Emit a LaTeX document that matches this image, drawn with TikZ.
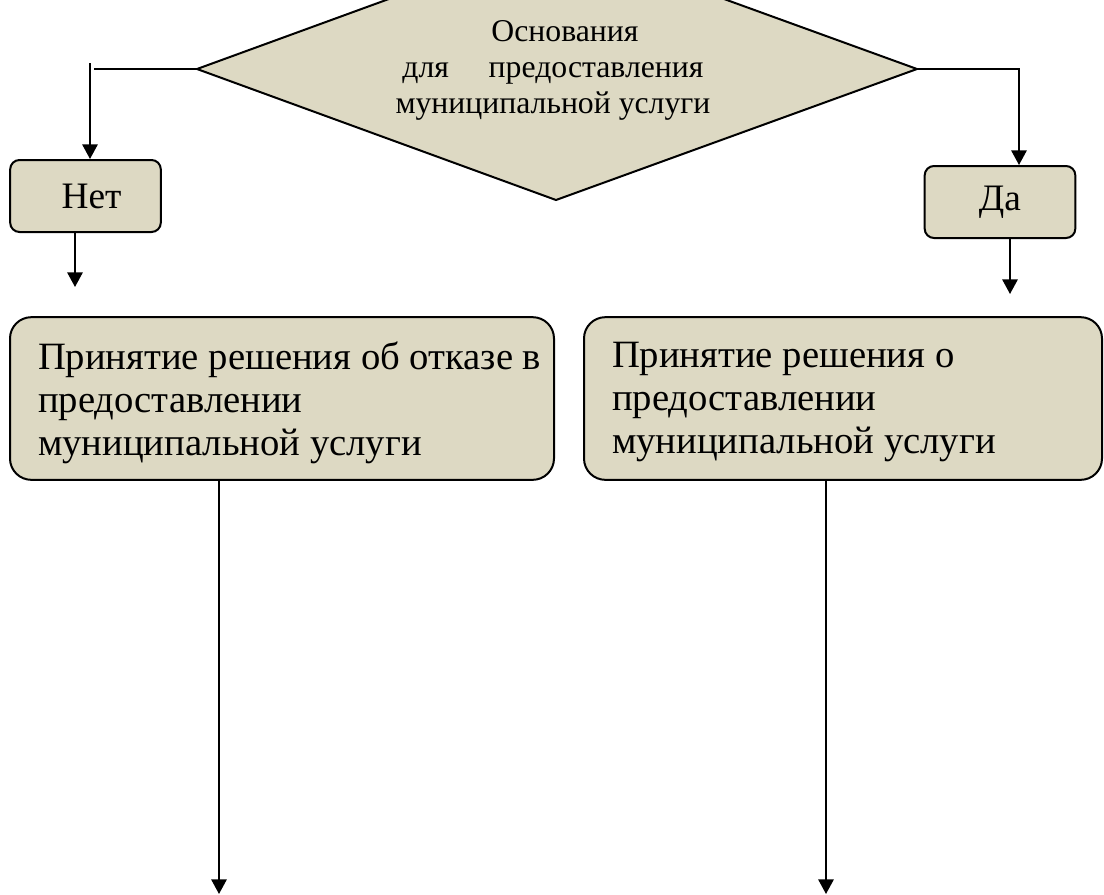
\documentclass[tikz,border=0pt]{standalone}
\usepackage{fontspec}
\setmainfont{Liberation Serif}
\usetikzlibrary{arrows.meta}
\definecolor{boxfill}{HTML}{DDD9C3}
\begin{document}
\begin{tikzpicture}[x=0.75pt,y=-0.75pt,line width=1.5pt,
  arr/.style={-{Triangle[length=11pt,width=11.5pt]}},
  smallbox/.style={draw,fill=boxfill,rounded corners=7pt,minimum width=113pt,minimum height=54pt,inner sep=0pt,font=\fontsize{28}{32}\selectfont},
  bigbox/.style={draw,fill=boxfill,rounded corners=16pt,minimum height=122pt,inner sep=0pt},
  bigtext/.style={align=left,inner sep=0pt,anchor=north west,font=\fontsize{29}{32.25}\selectfont},
  dtext/.style={align=center,inner sep=0pt,font=\fontsize{23.8}{27}\selectfont}]
\useasboundingbox (0,0) rectangle (1104,894);
% diamond
\coordinate (dl) at (197,69);
\coordinate (dr) at (917,69);
\coordinate (db) at (556,200);
\coordinate (dtp) at (556,-62);
\draw[fill=boxfill] (dl) -- (db) -- (dr) -- (dtp) -- cycle;
\node[dtext] (dtxt) at (553,70) {\hspace*{18pt}Основания\\для\quad\ предоставления\\муниципальной услуги};
% small boxes
\node[smallbox] (nbox) at (85.5,196) {\hspace*{9pt}Нет};
\node[smallbox] (dbox) at (1000,202) {Да};
% big boxes
\node[bigbox,minimum width=408pt] (lbox) at (282,398.5) {};
\node[bigbox,minimum width=388.5pt] (rbox) at (843,398.5) {};
\node[bigtext] (ltxt) at (37,341) {Принятие решения об отказе в\\предоставлении\\муниципальной услуги};
\node[bigtext] (rtxt) at (611,341) {Принятие решения о\\предоставлении\\муниципальной услуги};
% connectors
\coordinate (lh) at (94,69);
\coordinate (lc) at (90,63);
\draw (dl) -- (lh);
\draw[arr] (lc) -- (lc |- nbox.north);
\coordinate (nt) at (75,287);
\draw[arr] (nt |- nbox.south) -- (nt);
\coordinate (rc) at (1019,69);
\draw[arr] (dr) -- (rc) -- (rc |- dbox.north);
\coordinate (dt) at (1010,294);
\draw[arr] (dt |- dbox.south) -- (dt);
\coordinate (la) at (219,894);
\draw[arr] (la |- lbox.south) -- (la);
\coordinate (ra) at (826,894);
\draw[arr] (ra |- rbox.south) -- (ra);
\end{tikzpicture}
\end{document}
